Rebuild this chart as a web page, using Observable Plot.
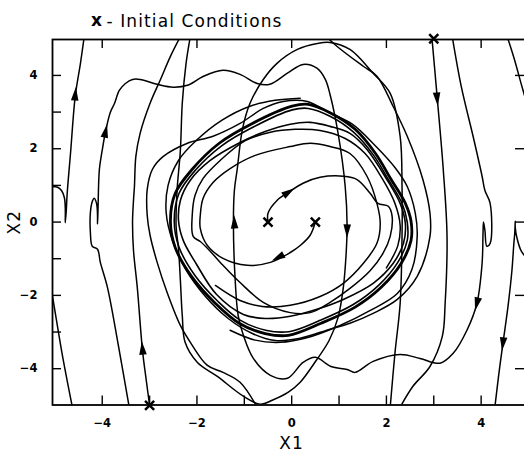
<!DOCTYPE html>
<html><head><meta charset="utf-8">
<script src="https://cdn.jsdelivr.net/npm/d3@7"></script>
<script src="https://cdn.jsdelivr.net/npm/@observablehq/plot@0.6"></script>
<style>
body{margin:0;background:#fff;}
svg{display:block;}
.ttl text{letter-spacing:1.1px;}
.axl text{letter-spacing:1px;}
</style>
</head><body><div id="chart"></div>
<script>
// ---- data (x1, x2) ----
const titleText = "- Initial Conditions";
const xLabel = "X1";
const yLabel = "X2";
const labelTicks = [-4, -2, 0, 2, 4];
const bottomTicks = [-4, -3, -2, -1, 0, 1, 2, 3, 4];
const leftTicks = [-4, -3, -2, -1, 0, 1, 2, 3, 4];
const topTicks = [-4, -2, 0, 2, 4];
const rightTicks = [-4, -2, 0, 2, 4];

const initialConditions = [[-3, -5], [3, 5], [-0.5, 0], [0.5, 0]];

const edgeLowerLeft = [[-5.08,-1.8],[-4.99,-2.49],[-4.84,-3.64],[-4.63,-5.05]];
const edgeUpperRight = [[4.55,5.06],[4.70,4.45],[4.85,3.75],[4.97,3.2]];
const cuspLeft = [[-5.08,0.97],[-4.94,0.95],[-4.86,0.86],[-4.80,0.67],[-4.78,0.37],[-4.78,-0.02],[-4.76,0.3],[-4.74,0.78],[-4.67,1.87],[-4.57,3.43],[-4.46,4.33],[-4.38,5.06]];
const cuspRight = [[4.97,-1.0],[4.84,-0.77],[4.76,-0.45],[4.72,-0.15],[4.72,0.02],[4.71,-0.3],[4.69,-0.6],[4.65,-1.32],[4.57,-2.27],[4.46,-3.31],[4.37,-4.18],[4.29,-5.05]];
const fromMinus3Minus5 = [[-3,-5],[-3.07,-4.32],[-3.15,-3.5],[-3.26,-1.78],[-3.34,-0.77],[-3.36,0.02],[-3.34,0.59],[-3.32,0.97],[-3.29,1.79],[-3.20,2.42],[-2.99,3.24],[-2.77,3.89],[-2.56,4.52],[-2.35,5.06]];
const from3Plus5 = [[2.96,5.04],[3.07,3.43],[3.20,1.44],[3.28,-0.39],[3.24,-2.22],[3.18,-3.12],[2.92,-3.94],[2.56,-4.48],[2.29,-5.05]];
const zigzagLeft = [[-3.43,-5.05],[-3.66,-3.36],[-3.89,-1.78],[-4.04,-1.10],[-4.10,-0.74],[-4.21,-0.66],[-4.25,-0.28],[-4.25,0.26],[-4.21,0.56],[-4.17,0.65],[-4.12,0.51],[-4.10,0.2],[-4.10,-0.05],[-4.09,0.3],[-4.06,1.44],[-4.00,1.96],[-3.93,2.47],[-3.83,2.99],[-3.74,3.24],[-3.64,3.59],[-3.51,3.78],[-3.36,3.89],[-3.20,3.89],[-2.84,3.76],[-2.50,3.68],[-2.20,3.73],[-1.87,3.97],[-1.45,4.14],[-1.09,4.03],[-0.73,3.78],[-0.46,3.76],[-0.09,4.06],[0.24,4.30],[0.54,4.19],[0.71,3.89],[0.81,3.48],[0.98,2.42],[1.13,0.97],[1.17,-0.09],[1.15,-0.85],[1.09,-1.79],[0.98,-2.60],[0.79,-3.23],[0.52,-3.77],[0.18,-4.37],[-0.07,-4.64],[-0.41,-4.86],[-0.66,-4.97],[-1.02,-4.75],[-1.57,-4.21],[-1.99,-3.83],[-2.25,-3.28],[-2.31,-2.55],[-2.35,-1.59],[-2.39,-0.72],[-2.44,-0.12],[-2.42,0.86],[-2.35,1.96],[-2.31,3.24],[-2.23,4.33],[-2.14,5.06]];
const zigzagRight = [[3.39,5.06],[3.58,3.70],[3.83,2.34],[4.02,1.25],[4.08,0.86],[4.19,0.51],[4.19,-0.58],[4.12,-0.66],[4.08,-0.23],[4.05,0.0],[4.04,-0.3],[4.02,-1.13],[3.91,-2.22],[3.70,-2.95],[3.41,-3.58],[3.13,-3.85],[2.71,-3.72],[2.29,-3.61],[1.72,-3.80],[1.34,-4.10],[1.17,-4.02],[0.83,-3.94],[0.50,-3.69],[0.24,-3.83],[-0.09,-4.26],[-0.45,-4.18],[-0.81,-3.72],[-1.02,-3.09],[-1.13,-2.55],[-1.19,-1.65],[-1.23,-0.09],[-1.21,0.86],[-1.15,1.44],[-1.04,2.53],[-0.88,3.24],[-0.60,3.89],[-0.31,4.33],[0.12,4.71],[0.54,4.87],[0.81,4.90],[1.23,4.71],[1.72,4.06],[2.08,3.51],[2.29,2.34],[2.33,0.97],[2.33,-0.39],[2.29,-2.22],[2.18,-3.58],[2.08,-5.05]];
const approachFromBelow = [[-0.73,-5.05],[-1.09,-4.37],[-1.45,-4.10],[-1.78,-3.91],[-2.14,-3.28],[-2.35,-2.82],[-2.63,-1.92],[-2.84,-1.10],[-2.99,-0.36],[-3.05,0.18],[-3.05,0.89],[-2.94,1.44],[-2.71,1.79],[-2.20,2.15],[-1.66,2.34],[-1.09,2.69],[-0.60,3.10],[-0.18,3.29],[0.33,3.29],[0.81,2.97],[1.28,2.67],[1.76,2.09],[2.18,1.49],[2.44,0.97],[2.61,0.24],[2.65,-0.39],[2.54,-1.29],[2.23,-1.95],[1.66,-2.41],[1.02,-2.82],[0.28,-3.17],[-0.24,-3.28],[-0.77,-3.22],[-1.30,-2.95]];
const approachFromAbove = [[0.73,5.06],[0.96,4.79],[1.51,4.25],[1.80,3.98],[2.14,3.16],[2.44,2.34],[2.77,1.16],[2.92,0.24],[2.92,-0.39],[2.65,-1.48],[2.23,-2.11],[1.72,-2.49],[1.23,-2.76],[0.81,-2.92],[0.18,-3.17],[-0.35,-3.23],[-0.83,-3.04],[-1.34,-2.63],[-1.82,-2.03],[-2.25,-1.26],[-2.52,-0.50],[-2.65,0.26],[-2.61,1.00],[-2.39,1.68],[-2.01,2.23],[-1.47,2.78],[-0.88,3.16],[-0.35,3.32],[0.18,3.38]];
const spiralFromLeft = [[-0.5,0],[-0.50,0.24],[-0.31,0.59],[-0.07,0.81],[0.24,1.06],[0.60,1.22],[1.09,1.25],[1.38,1.16],[1.66,0.78],[1.82,0.51],[2.04,0.43],[2.12,0.16],[2.08,-0.39],[1.93,-0.85],[1.66,-1.32],[1.23,-1.81],[0.81,-2.19],[0.39,-2.47],[-0.03,-2.47],[-0.60,-2.19],[-1.09,-1.65],[-1.45,-1.18],[-1.76,-0.74],[-1.93,-0.53],[-2.08,-0.39],[-2.10,0.18],[-2.04,0.73],[-1.87,1.19],[-1.51,1.68],[-0.98,2.22],[-0.45,2.45],[0.07,2.53],[0.60,2.50],[1.13,2.28],[1.55,1.87],[1.91,1.19],[2.18,0.51],[2.29,-0.09],[2.24,-0.65],[2.0,-1.25]];
const spiralFromRight = [[0.5,0],[0.39,-0.36],[0.18,-0.64],[-0.03,-0.83],[-0.45,-1.10],[-0.94,-1.18],[-1.45,-0.99],[-1.78,-0.64],[-1.93,-0.17],[-1.93,0.18],[-1.87,0.65],[-1.66,1.08],[-1.30,1.46],[-0.77,1.82],[-0.03,2.06],[0.39,2.15],[0.81,2.06],[1.23,1.87],[1.59,1.25],[1.80,0.51],[1.87,-0.04],[1.80,-0.58],[1.51,-1.13],[1.09,-1.67],[0.60,-2.03],[-0.03,-2.27],[-0.62,-2.30],[-1.09,-2.14],[-1.61,-1.73]];
const limitCycle = [[-2.56,0.02],[-2.46,0.78],[-2.10,1.44],[-1.53,2.15],[-0.83,2.69],[0.01,3.16],[0.35,3.21],[0.83,2.97],[1.34,2.53],[1.77,1.87],[2.10,1.16],[2.40,0.51],[2.52,0.02],[2.52,-0.50],[2.31,-1.13],[1.89,-1.78],[1.34,-2.32],[0.62,-2.76],[-0.07,-3.09],[-0.56,-3.04],[-1.11,-2.76],[-1.61,-2.22],[-2.10,-1.51],[-2.46,-0.69]];
const limitCycleInner = [[-2.48,0.02],[-2.38,0.78],[-2.03,1.42],[-1.48,2.08],[-0.80,2.60],[0.01,3.06],[0.35,3.10],[0.82,2.88],[1.30,2.46],[1.72,1.84],[2.05,1.14],[2.33,0.51],[2.44,0.0],[2.44,-0.50],[2.24,-1.10],[1.84,-1.72],[1.30,-2.25],[0.60,-2.68],[-0.06,-2.99],[-0.55,-2.95],[-1.08,-2.68],[-1.56,-2.16],[-2.03,-1.48],[-2.38,-0.68]];
const innerLoop = [[-2.39,0.05],[-2.35,0.59],[-2.14,1.14],[-1.72,1.68],[-1.09,2.17],[-0.56,2.47],[-0.03,2.67],[0.39,2.72],[0.81,2.61],[1.23,2.42],[1.59,1.98],[2.01,1.16],[2.29,0.51],[2.40,-0.04],[2.36,-0.58],[2.14,-1.13],[1.72,-1.67],[1.09,-2.11],[0.60,-2.35],[-0.03,-2.57],[-0.56,-2.63],[-1.02,-2.52],[-1.59,-1.97],[-2.01,-1.15],[-2.29,-0.50]];

const arrowX = [-4.57, -3.93, -3.15, -1.21, 1.17, 3.07, 3.91, 4.46, -0.07, -0.28];
const arrowY = [3.48, 2.47, -3.45, -0.01, -0.23, 3.37, -2.22, -3.31, 0.81, -0.96];
const arrowDir = [5, 12, -5, -2, 181, 175, 194, 187, 57, 243];

// ---- tables built from the arrays ----
const openCurves = {edgeLowerLeft, edgeUpperRight, cuspLeft, cuspRight, fromMinus3Minus5, from3Plus5,
  zigzagLeft, zigzagRight, approachFromBelow, approachFromAbove, spiralFromLeft, spiralFromRight};
const toRows = (obj) => Object.entries(obj).flatMap(([id, pts]) => pts.map(([x, y]) => ({id, x, y})));
const openRows = toRows(openCurves);
const innerRows = toRows({innerLoop, limitCycleInner});
const cycleRows = toRows({limitCycle});
const arrows = arrowX.map((x, i) => ({x, y: arrowY[i], a: arrowDir[i]}));
const ic = initialConditions.map(([x, y]) => ({x, y}));

const arrowHead = {
  draw(ctx, size) {
    const r = Math.sqrt(size / Math.PI);
    const L = r * 2.5, W = r * 1.4;
    ctx.moveTo(0, -L * 0.55);
    ctx.lineTo(W / 2, L * 0.45);
    ctx.lineTo(-W / 2, L * 0.45);
    ctx.closePath();
  }
};

const W = 524, H = 451, mL = 52, mR = -4, mT = 39, mB = 46.5;
const plotW = W - mL - mR, plotH = H - mT - mB;
const tick = 9;

const chart = Plot.plot({
  width: W, height: H,
  marginLeft: mL, marginRight: mR, marginTop: mT, marginBottom: mB,
  x: {domain: [-5.05, 5.0]},
  y: {domain: [-4.99, 4.98]},
  style: {fontFamily: "DejaVu Sans", background: "white", color: "black"},
  marks: [
    Plot.line(openRows, {x: "x", y: "y", z: "id", curve: "catmull-rom", stroke: "black", strokeWidth: 1.5, clip: true}),
    Plot.line(innerRows, {x: "x", y: "y", z: "id", curve: "catmull-rom-closed", stroke: "black", strokeWidth: 1.6, clip: true}),
    Plot.line(cycleRows, {x: "x", y: "y", z: "id", curve: "catmull-rom-closed", stroke: "black", strokeWidth: 2.8, clip: true}),
    Plot.dot(arrows, {x: "x", y: "y", rotate: "a", symbol: arrowHead, r: 5.4, fill: "black", stroke: "none"}),
    Plot.dot(ic, {x: "x", y: "y", symbol: "times", r: 4.2, stroke: "black", strokeWidth: 2.5}),
    Plot.frame({stroke: "black", strokeWidth: 1.8}),
    Plot.tickX(bottomTicks, {x: d => d, insetTop: plotH - tick, stroke: "black", strokeWidth: 1.4}),
    Plot.tickX(topTicks, {x: d => d, insetBottom: plotH - tick, stroke: "black", strokeWidth: 1.4}),
    Plot.tickY(leftTicks, {y: d => d, insetRight: plotW - tick, stroke: "black", strokeWidth: 1.4}),
    Plot.tickY(rightTicks, {y: d => d, insetLeft: plotW - tick - 4, stroke: "black", strokeWidth: 1.4}),
    Plot.axisX(labelTicks, {anchor: "bottom", tickSize: 0, tickPadding: 14, fontSize: 11.5, fontWeight: "bold", label: null}),
    Plot.axisY(labelTicks, {anchor: "left", tickSize: 0, tickPadding: 15, fontSize: 11.5, fontWeight: "bold", label: null}),
    Plot.text([xLabel], {frameAnchor: "bottom", dx: 1, dy: 43.5, lineAnchor: "bottom", textAnchor: "middle", fontSize: 17, className: "axl"}),
    Plot.text([yLabel], {frameAnchor: "left", dx: -38, dy: 0, rotate: -90, lineAnchor: "middle", textAnchor: "middle", fontSize: 17, className: "axl"}),
    Plot.text(["x"], {frameAnchor: "top-left", dx: 44, dy: -14, lineAnchor: "bottom", textAnchor: "middle", fontSize: 17, fontWeight: "bold"}),
    Plot.text([titleText], {frameAnchor: "top-left", dx: 54, dy: -13, lineAnchor: "bottom", textAnchor: "start", fontSize: 17, className: "ttl"})
  ]
});
document.getElementById("chart").append(chart);
</script>
</body></html>
